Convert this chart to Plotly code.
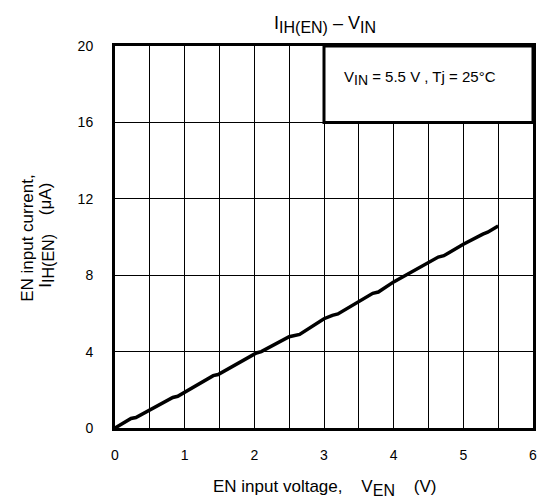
import plotly.graph_objects as go

v_en = [0, 0.23, 0.3, 0.83, 0.9, 1.41, 1.48, 2.03, 2.1, 2.5, 2.65, 3.0, 3.12, 3.2,
        3.7, 3.78, 4.0, 4.64, 4.72, 5.0, 5.28, 5.35, 5.5]
i_ih = [0, 0.5, 0.55, 1.6, 1.66, 2.74, 2.8, 3.93, 4.0, 4.78, 4.9, 5.72, 5.9, 5.97,
        7.05, 7.12, 7.65, 8.95, 9.02, 9.62, 10.15, 10.25, 10.58]
x_ticks = [0, 1, 2, 3, 4, 5, 6]
y_ticks = [0, 4, 8, 12, 16, 20]

FONT = "Liberation Sans, Arial, sans-serif"
L, R, T, B = 115, 7, 46, 73
PW = 544 - L - R
PH = 501 - T - B
NB = "\u00a0"


def sub(t, size):
    return "<sub><span style='font-size:%dpx'>%s</span></sub>" % (size, t)


fig = go.Figure()
fig.add_trace(go.Scatter(x=v_en, y=i_ih, mode="lines",
                         line=dict(color="black", width=3.5), showlegend=False))

fig.update_layout(
    width=544, height=501,
    margin=dict(l=L, r=R, t=T, b=B),
    paper_bgcolor="white", plot_bgcolor="white",
    font=dict(family=FONT, size=14, color="black"),
    title=dict(text="I" + sub("IH(EN)", 16) + NB + "–" + NB + "V" + sub("IN", 16),
               x=325 / 544, xanchor="center", y=1 - 23 / 501, yanchor="middle",
               font=dict(size=18)),
)
fig.update_xaxes(range=[0, 6], tickvals=x_ticks, showgrid=True, gridcolor="black",
                 gridwidth=1, showline=True, linecolor="black", linewidth=3,
                 mirror=True, zeroline=False, ticks="", ticklabelstandoff=12,
                 tickfont=dict(size=14))
fig.update_xaxes(minor=dict(showgrid=True, gridcolor="black", gridwidth=1, dtick=0.5, tick0=0))
fig.update_yaxes(range=[0, 20], tickvals=y_ticks, showgrid=True, gridcolor="black",
                 gridwidth=1, showline=True, linecolor="black", linewidth=3,
                 mirror=True, zeroline=False, ticks="", ticklabelstandoff=16,
                 tickfont=dict(size=14))

fig.add_shape(type="rect", xref="x", yref="y", x0=3, x1=6, y0=16, y1=20,
              line=dict(color="black", width=3), fillcolor="white", layer="above")
fig.add_annotation(xref="x", yref="y", x=4.38, y=18.3, showarrow=False,
                   text="V" + sub("IN", 14) + " = 5.5 V , Tj = 25°C", font=dict(size=15))

fig.add_annotation(xref="paper", yref="paper", x=(327 - L) / PW, y=-(488 - (501 - B)) / PH,
                   showarrow=False, xanchor="center", yanchor="middle",
                   text="EN input voltage," + NB * 4 + "V" + sub("EN", 16) + NB * 4 + "(V)",
                   font=dict(size=17))
fig.add_annotation(xref="paper", yref="paper", x=(26 - L) / PW, y=(501 - B - 238) / PH,
                   showarrow=False, xanchor="center", yanchor="middle", textangle=-90,
                   text="EN input current,", font=dict(size=17))
fig.add_annotation(xref="paper", yref="paper", x=(46 - L) / PW, y=(501 - B - 235) / PH,
                   showarrow=False, xanchor="center", yanchor="middle", textangle=-90,
                   text="I" + sub("IH(EN)", 16) + NB * 4 + "(μA)", font=dict(size=17))

fig.write_html("out.html", config={"displayModeBar": False},
               post_script="document.body.style.margin='0';document.body.style.overflow='hidden';")
